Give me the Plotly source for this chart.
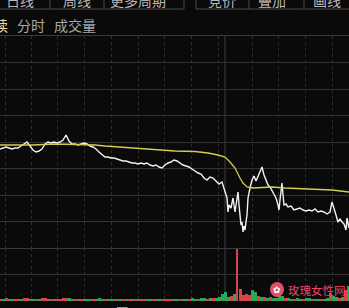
import plotly.graph_objects as go

# ---------------- data ----------------
TIME = [0, 3, 6, 9, 12, 15, 18, 21, 24, 27, 30, 33, 36, 39, 42, 45, 48, 51, 54, 57,
        60, 63, 66, 69, 72, 75, 78, 81, 84, 87, 90, 93, 96, 99, 102, 105, 108, 111, 114, 117,
        120, 123, 126, 129, 132, 135, 138, 141, 144, 147, 150, 153, 156, 159, 162, 165, 168, 171, 174, 177,
        180, 183, 186, 189, 192, 195, 198, 201, 204, 207, 210, 213, 216, 219, 222, 223, 225, 227, 228, 229,
        231, 233, 235, 237, 238, 239, 240, 241, 242, 243, 244, 245, 246, 247, 248, 249, 250, 252, 254, 256,
        258, 260, 262, 264, 266, 268, 270, 272, 274, 276, 278, 279, 280, 281, 282, 283, 284, 286, 288, 291,
        294, 297, 300, 303, 306, 309, 312, 315, 318, 321, 324, 327, 330, 332, 334, 336, 338, 340, 342, 344,
        346, 347, 349]
PRICE = [10.51, 10.52, 10.53, 10.52, 10.51, 10.52, 10.52, 10.54, 10.56, 10.58, 10.54, 10.50, 10.48, 10.49, 10.51, 10.56, 10.58, 10.57, 10.58, 10.57,
         10.58, 10.60, 10.65, 10.59, 10.56, 10.56, 10.55, 10.56, 10.57, 10.56, 10.54, 10.53, 10.51, 10.48, 10.45, 10.43, 10.43, 10.42, 10.42, 10.41,
         10.40, 10.39, 10.39, 10.38, 10.37, 10.37, 10.36, 10.37, 10.36, 10.37, 10.35, 10.34, 10.35, 10.33, 10.32, 10.35, 10.37, 10.38, 10.40, 10.39,
         10.37, 10.35, 10.34, 10.33, 10.31, 10.29, 10.27, 10.26, 10.22, 10.20, 10.23, 10.22, 10.19, 10.16, 10.18, 10.15, 10.10, 10.02, 9.88, 9.95,
         9.92, 10.02, 9.88, 10.00, 10.08, 9.95, 9.82, 9.75, 9.78, 9.68, 9.74, 9.70, 9.78, 9.85, 10.02, 10.08, 10.12, 10.20, 10.24, 10.19,
         10.24, 10.30, 10.33, 10.25, 10.20, 10.15, 10.13, 10.09, 10.05, 10.02, 9.95, 9.90, 10.00, 10.10, 10.17, 10.05, 9.95, 9.96, 9.93, 9.94,
         9.90, 9.91, 9.92, 9.90, 9.89, 9.90, 9.89, 9.91, 9.88, 9.89, 9.88, 9.86, 9.88, 9.98, 9.90, 9.85, 9.78, 9.81, 9.78, 9.76,
         9.70, 9.82, 9.72]

AVG_T = [0, 15, 33, 55, 80, 95, 105, 120, 140, 165, 175, 195, 208, 218, 225, 230, 235, 240, 243, 247,
         253, 272, 285, 308, 332, 349]
AVG = [10.55, 10.55, 10.55, 10.56, 10.555, 10.55, 10.54, 10.53, 10.52, 10.50, 10.49, 10.485, 10.47, 10.45, 10.43, 10.38, 10.32, 10.22, 10.17, 10.13,
       10.12, 10.13, 10.12, 10.11, 10.10, 10.08]

VOL_T = [i * 3 for i in range(117)]
VOL = [200, 150, 250, 180, 220, 160, 200, 240, 300, 260, 220, 180, 150, 200, 250, 300, 220, 180, 200, 170,
       230, 260, 320, 250, 200, 180, 160, 190, 210, 170, 200, 180, 220, 250, 200, 180, 160, 170, 150, 190,
       200, 160, 180, 170, 150, 190, 200, 160, 180, 150, 200, 170, 160, 180, 150, 190, 200, 220, 180, 160,
       200, 180, 220, 190, 250, 230, 200, 260, 280, 220, 300, 260, 320, 380, 700, 850, 400, 500, 650, 5100,
       1200, 600, 700, 550, 1100, 900, 450, 380, 420, 300, 350, 280, 320, 700, 450, 300, 260, 240, 220, 260,
       240, 220, 300, 250, 220, 200, 240, 220, 200, 260, 750, 500, 350, 300, 380, 1100, 1500]
VOL_DIR = ("rgrggrrgrrggrgrrgrgr" "rrrggrgrgggrgggrggrg"
           "grgrgrgrrggrggrrrrgg" "rggrggrggrgrgggggrgr"
           "rrrrggrgrgrggggrggrg" "grggrggrggrggrgrggrg"
           "ggggggg")

PREV_CLOSE = 10.58
SESSION_BREAK = 225
VGRID = [5, 31, 57, 84, 111, 138, 164, 191, 218, 252, 278, 305, 332]
HGRID = [9.52, 9.785, 10.05, 10.315, 10.58, 10.845, 11.11, 11.375, 11.64]
VOL_GRID = [2600]

TABS_LEFT = ["日线", "周线", "更多周期"]
TABS_RIGHT = ["竞价", "叠加", "画线"]
MODES = ["分时", "成交量"]

# ---------------- figure ----------------
W, H = 349, 308
def PX(x):
    return x / W
def PY(y):
    return 1 - y / H

BG = "#0a0a0a"
GRID = "#333333"

colors = ["#d9434b" if c == "r" else "#2aa855" for c in VOL_DIR]
widths = [1.6 if v > 3000 else 3.0 for v in VOL]

fig = go.Figure()
fig.add_trace(go.Bar(x=VOL_T, y=VOL, width=widths, marker=dict(color=colors, line=dict(width=0)),
                     xaxis="x2", yaxis="y2", hoverinfo="skip"))
fig.add_trace(go.Scatter(x=TIME, y=PRICE, mode="lines",
                         line=dict(color="#f2f2f2", width=1.4), hoverinfo="skip"))
fig.add_trace(go.Scatter(x=AVG_T, y=AVG, mode="lines",
                         line=dict(color="#d2cd52", width=1.3), hoverinfo="skip"))

axis_common = dict(showticklabels=False, zeroline=False, ticks="", fixedrange=True)
fig.update_layout(
    width=W, height=H, margin=dict(l=0, r=0, t=0, b=0),
    paper_bgcolor=BG, plot_bgcolor=BG, showlegend=False,
    xaxis=dict(domain=[0, 1], range=[0, W], anchor="y", tickvals=VGRID, showgrid=True,
               gridcolor="#2e2e2e", griddash="dot", gridwidth=1,
               showline=True, mirror=True, linecolor="#3a3a3a", linewidth=1, **axis_common),
    yaxis=dict(domain=[PY(248), PY(36)], range=[9.52, 11.64], anchor="x", tickvals=HGRID,
               showgrid=True, gridcolor=GRID, gridwidth=1, showline=False, **axis_common),
    xaxis2=dict(domain=[0, 1], range=[0, W], anchor="y2", matches="x", tickvals=VGRID, showgrid=True,
                gridcolor="#2e2e2e", griddash="dot", gridwidth=1,
                showline=False, **axis_common),
    yaxis2=dict(domain=[PY(301), PY(248)], range=[0, 5200], anchor="x2", tickvals=VOL_GRID,
                showgrid=True, gridcolor=GRID, gridwidth=1, showline=False, **axis_common),
    bargap=0,
)

shapes = []
# session break (solid vertical)
shapes.append(dict(type="line", xref="x", yref="paper", x0=SESSION_BREAK, x1=SESSION_BREAK,
                   y0=PY(301), y1=PY(36), line=dict(color="#3c3c3c", width=1), layer="below"))
# tab borders
tab_col = "#4a4a4a"
shapes.append(dict(type="line", xref="paper", yref="paper", x0=PX(0), x1=PX(184), y0=PY(9), y1=PY(9),
                   line=dict(color=tab_col, width=1)))
shapes.append(dict(type="line", xref="paper", yref="paper", x0=PX(196), x1=PX(349), y0=PY(9), y1=PY(9),
                   line=dict(color=tab_col, width=1)))
for xv in [50, 104, 184, 196, 249, 304]:
    shapes.append(dict(type="line", xref="paper", yref="paper", x0=PX(xv), x1=PX(xv), y0=PY(0), y1=PY(9),
                       line=dict(color=tab_col, width=1)))
# watermark logo
shapes.append(dict(type="circle", xref="paper", yref="paper", x0=PX(270), x1=PX(284), y0=PY(297), y1=PY(282),
                   fillcolor="#e0506a", line=dict(width=0)))
fig.update_layout(shapes=shapes)

FONT = "Noto Sans CJK SC, Noto Sans, sans-serif"
ann = []
for txt, cx in zip(TABS_LEFT, [20, 77, 138]):
    ann.append(dict(text=txt, x=PX(cx), y=PY(0), xref="paper", yref="paper", showarrow=False,
                    xanchor="center", yanchor="middle", font=dict(family=FONT, size=14, color="#b8b8b8")))
for txt, cx in zip(TABS_RIGHT, [222, 272, 327]):
    ann.append(dict(text=txt, x=PX(cx), y=PY(0), xref="paper", yref="paper", showarrow=False,
                    xanchor="center", yanchor="middle", font=dict(family=FONT, size=14, color="#b8b8b8")))
ann.append(dict(text="读", x=PX(1), y=PY(25), xref="paper", yref="paper", showarrow=False,
                xanchor="center", yanchor="middle", font=dict(family=FONT, size=14, color="#e4dba2")))
for txt, cx in zip(MODES, [30.5, 75]):
    ann.append(dict(text=txt, x=PX(cx), y=PY(25), xref="paper", yref="paper", showarrow=False,
                    xanchor="center", yanchor="middle", font=dict(family=FONT, size=14, color="#a8a8a8")))
# watermark
ann.append(dict(text="✿", x=PX(277), y=PY(289.5), xref="paper", yref="paper", showarrow=False,
                xanchor="center", yanchor="middle", font=dict(family="DejaVu Sans", size=9, color="#ffffff")))
ann.append(dict(text="玫瑰女性网", x=PX(286), y=PY(290), xref="paper", yref="paper", showarrow=False,
                xanchor="left", yanchor="middle", font=dict(family=FONT, size=11.5, color="#e8486a")))
# bottom info row (mostly clipped)
for txt, cx, col in [("10.58", 38, "#9a9a9a"), ("1.05万", 110, "#9a9a9a"), ("10.12", 160, "#9a9a9a"),
                     ("-3.5%", 222, "#c84848"), ("9.72", 268, "#9a9a9a"), ("0.61%", 318, "#9a9a9a")]:
    ann.append(dict(text=txt, x=PX(cx), y=PY(311), xref="paper", yref="paper", showarrow=False,
                    xanchor="center", yanchor="middle", font=dict(family=FONT, size=12, color=col)))
fig.update_layout(annotations=ann)

fig.write_html("out.html", config={"displayModeBar": False})
